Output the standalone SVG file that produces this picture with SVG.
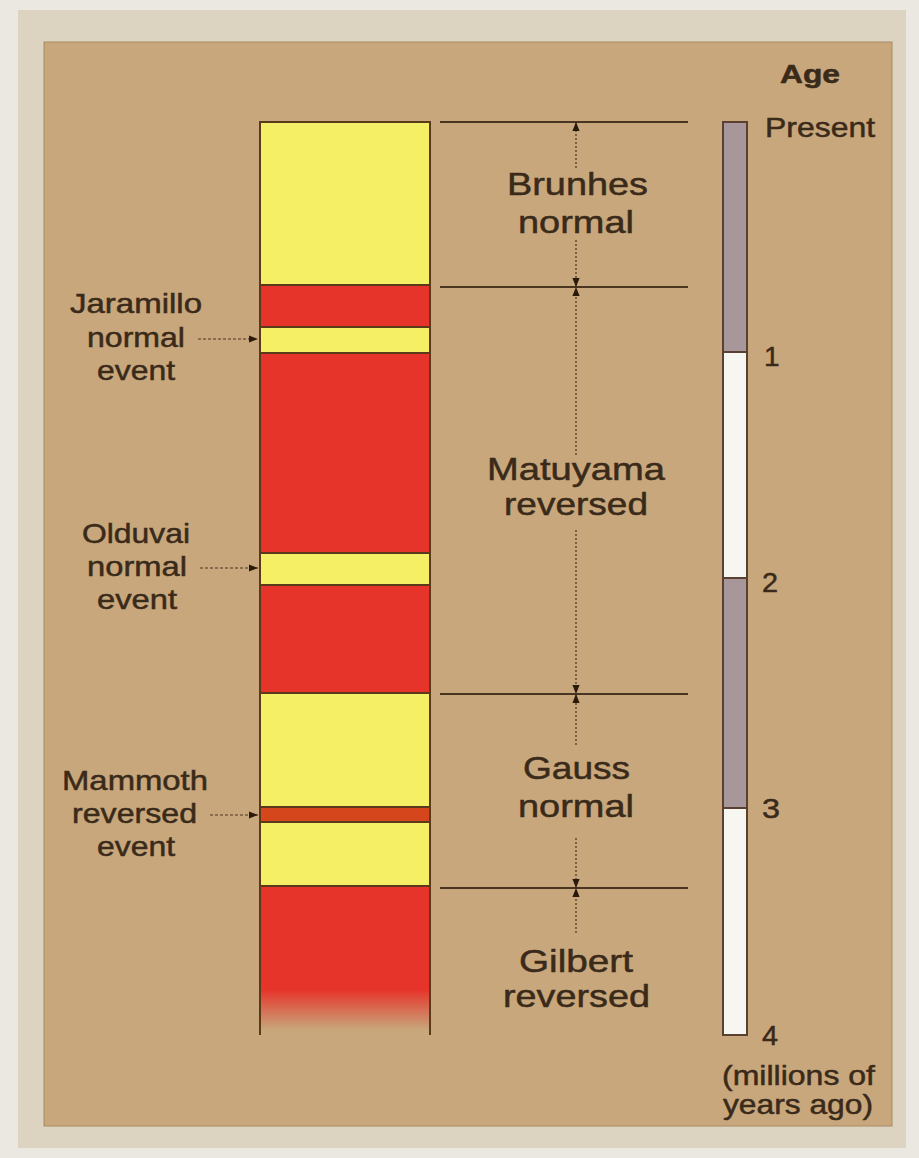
<svg xmlns="http://www.w3.org/2000/svg" width="919" height="1158" viewBox="0 0 919 1158">
<defs>
<style>
.t{font-family:"Liberation Sans",Arial,sans-serif;fill:#3a2a1a;stroke:#3a2a1a;stroke-width:0.5;}
.lab{font-size:28px;}
.big{font-size:32px;}
.bold{font-weight:bold;font-size:26px;}
.band{stroke:#5a3a1a;stroke-width:2;}
.yel{fill:#f5ef66;}
.red{fill:#e6342a;}
.hline{stroke:#4a3520;stroke-width:2;fill:none;}
.dot{stroke:#4a3520;stroke-width:1.2;stroke-dasharray:2 2;fill:none;}
.dash{stroke:#4a3520;stroke-width:1.2;stroke-dasharray:3 2;fill:none;}
</style>
<marker id="ah" viewBox="0 0 10 10" refX="10" refY="5" markerWidth="9" markerHeight="9" markerUnits="userSpaceOnUse" orient="auto">
<path d="M0,1 L10,5 L0,9 Z" fill="#2a1a0a"/>
</marker>
<linearGradient id="fade" x1="0" y1="886" x2="0" y2="1030" gradientUnits="userSpaceOnUse">
<stop offset="0" stop-color="#e6342a"/>
<stop offset="0.72" stop-color="#e6342a"/>
<stop offset="1" stop-color="#e6342a" stop-opacity="0"/>
</linearGradient>
</defs>

<!-- frame -->
<rect x="0" y="0" width="919" height="1158" fill="#ebe8e2"/>
<rect x="18" y="10" width="888" height="1138" fill="#ddd3c1"/>
<rect x="44" y="42" width="848" height="1084" fill="#c8a77c" stroke="#a88a66" stroke-width="1"/>

<!-- column -->
<g id="column">
<rect class="yel" x="260" y="122" width="170" height="163"/>
<rect class="red" x="260" y="285" width="170" height="42"/>
<rect class="yel" x="260" y="327" width="170" height="26"/>
<rect class="red" x="260" y="353" width="170" height="200"/>
<rect class="yel" x="260" y="553" width="170" height="32"/>
<rect class="red" x="260" y="585" width="170" height="108"/>
<rect class="yel" x="260" y="693" width="170" height="114"/>
<rect x="260" y="807" width="170" height="15" fill="#d6461c"/>
<rect class="yel" x="260" y="822" width="170" height="64"/>
<rect x="260" y="886" width="170" height="144" fill="url(#fade)"/>
<path class="band" fill="none" d="M260,1035 V122 H430 V1035 M260,285 H430 M260,327 H430 M260,353 H430 M260,553 H430 M260,585 H430 M260,693 H430 M260,807 H430 M260,822 H430 M260,886 H430"/>
</g>

<!-- event labels -->
<g id="jaramillo">
<text class="t lab" x="70" y="313" textLength="132" lengthAdjust="spacingAndGlyphs">Jaramillo</text>
<text class="t lab" x="87" y="347" textLength="98" lengthAdjust="spacingAndGlyphs">normal</text>
<text class="t lab" x="97" y="380" textLength="78" lengthAdjust="spacingAndGlyphs">event</text>
</g>
<g id="olduvai">
<text class="t lab" x="82" y="543" textLength="108" lengthAdjust="spacingAndGlyphs">Olduvai</text>
<text class="t lab" x="87" y="576" textLength="100" lengthAdjust="spacingAndGlyphs">normal</text>
<text class="t lab" x="97" y="609" textLength="80" lengthAdjust="spacingAndGlyphs">event</text>
</g>
<g id="mammoth">
<text class="t lab" x="62" y="790" textLength="146" lengthAdjust="spacingAndGlyphs">Mammoth</text>
<text class="t lab" x="72" y="823" textLength="125" lengthAdjust="spacingAndGlyphs">reversed</text>
<text class="t lab" x="97" y="856" textLength="78" lengthAdjust="spacingAndGlyphs">event</text>
</g>

<!-- epoch labels -->
<g id="brunhes">
<text class="t big" x="507" y="195" textLength="141" lengthAdjust="spacingAndGlyphs">Brunhes</text>
<text class="t big" x="518" y="233" textLength="116" lengthAdjust="spacingAndGlyphs">normal</text>
</g>
<g id="matuyama">
<text class="t big" x="487" y="480" textLength="178" lengthAdjust="spacingAndGlyphs">Matuyama</text>
<text class="t big" x="504" y="515" textLength="144" lengthAdjust="spacingAndGlyphs">reversed</text>
</g>
<g id="gauss">
<text class="t big" x="523" y="779" textLength="107" lengthAdjust="spacingAndGlyphs">Gauss</text>
<text class="t big" x="518" y="817" textLength="116" lengthAdjust="spacingAndGlyphs">normal</text>
</g>
<g id="gilbert">
<text class="t big" x="519" y="972" textLength="114" lengthAdjust="spacingAndGlyphs">Gilbert</text>
<text class="t big" x="503" y="1007" textLength="147" lengthAdjust="spacingAndGlyphs">reversed</text>
</g>

<!-- age scale -->
<g id="age-scale">
<rect x="723" y="122" width="24" height="230" fill="#a8979a"/>
<rect x="723" y="352" width="24" height="226" fill="#f8f6f1"/>
<rect x="723" y="578" width="24" height="230" fill="#a8979a"/>
<rect x="723" y="808" width="24" height="227" fill="#f8f6f1"/>
<path d="M723,122 H747 V1035 H723 Z M723,352 H747 M723,578 H747 M723,808 H747" fill="none" stroke="#5a4030" stroke-width="2"/>
<text class="t bold" x="780" y="83" textLength="60" lengthAdjust="spacingAndGlyphs">Age</text>
<text class="t lab" x="765" y="137" textLength="110" lengthAdjust="spacingAndGlyphs">Present</text>
<text class="t lab" x="764" y="366">1</text>
<text class="t lab" x="762" y="592" textLength="16" lengthAdjust="spacingAndGlyphs">2</text>
<text class="t lab" x="762" y="818" textLength="18" lengthAdjust="spacingAndGlyphs">3</text>
<text class="t lab" x="762" y="1045" textLength="16" lengthAdjust="spacingAndGlyphs">4</text>
<text class="t lab" x="722" y="1085" textLength="153" lengthAdjust="spacingAndGlyphs">(millions of</text>
<text class="t lab" x="723" y="1114" textLength="150" lengthAdjust="spacingAndGlyphs">years ago)</text>
</g>

<!-- connectors -->
<g id="connectors">
<path class="hline" d="M440,122 H688 M440,287 H688 M440,694 H688 M440,888 H688"/>
<path class="dot" d="M576,168 V122" marker-end="url(#ah)"/>
<path class="dot" d="M576,240 V287" marker-end="url(#ah)"/>
<path class="dot" d="M576,455 V287" marker-end="url(#ah)"/>
<path class="dot" d="M576,530 V694" marker-end="url(#ah)"/>
<path class="dot" d="M576,745 V694" marker-end="url(#ah)"/>
<path class="dot" d="M576,838 V888" marker-end="url(#ah)"/>
<path class="dot" d="M576,933 V888" marker-end="url(#ah)"/>
<path class="dash" d="M198,339 H258" marker-end="url(#ah)"/>
<path class="dash" d="M200,568 H258" marker-end="url(#ah)"/>
<path class="dash" d="M210,815 H258" marker-end="url(#ah)"/>
</g>
</svg>
